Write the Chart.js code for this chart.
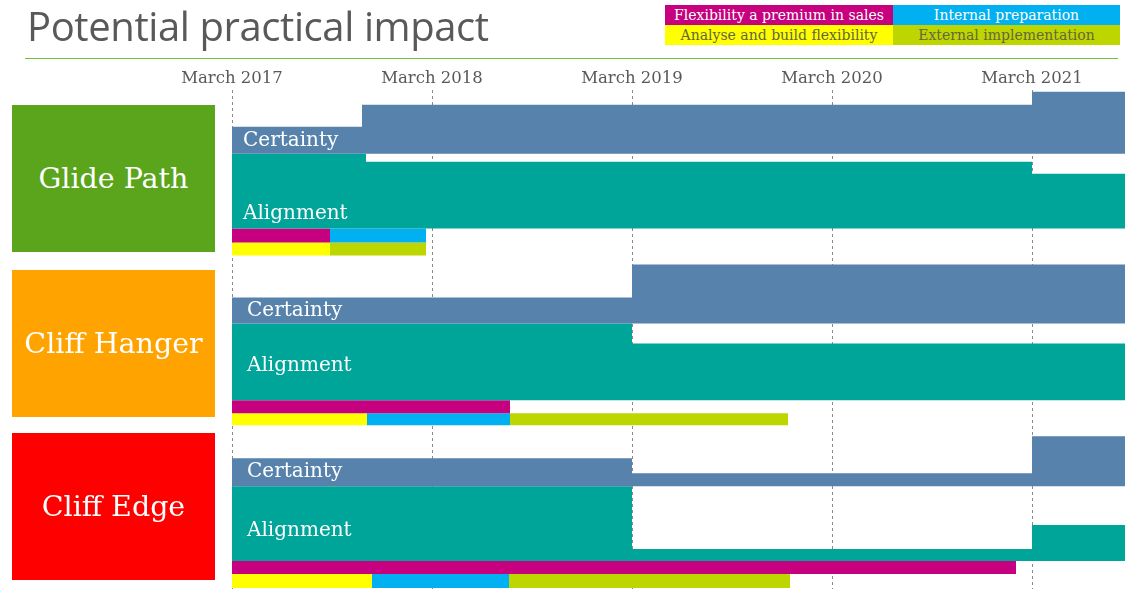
<!DOCTYPE html>
<html>
<head>
<meta charset="utf-8">
<script src="https://cdn.jsdelivr.net/npm/chart.js@4.4.1/dist/chart.umd.min.js"></script>
<style>
  html, body { margin: 0; padding: 0; background: #fff; }
  #page { position: relative; width: 1130px; height: 589px; overflow: hidden; font-family: "DejaVu Serif", serif; }
  #chartBox { position: absolute; left: 0; top: 0; width: 1130px; height: 589px; }
  .title { position: absolute; left: 27px; top: -2px; font-family: "Open Sans", sans-serif; font-weight: 400; font-size: 40px; color: #595959; white-space: nowrap; letter-spacing: -0.4px; }
  .rule { position: absolute; left: 25px; top: 58px; width: 1093px; height: 1px; background: #74c043; }
  .key { position: absolute; text-align: center; font-size: 14px; white-space: nowrap; }
  .scenario { position: absolute; left: 12px; width: 203px; height: 147px; display: flex; align-items: center; justify-content: center; color: #fff; font-size: 28.5px; }
</style>
</head>
<body>
<div id="page">
  <div id="chartBox"><canvas id="timeline"></canvas></div>
  <div class="title">Potential practical impact</div>
  <div class="rule"></div>
</div>
<script>
// time axis
const tickYears = [2017, 2018, 2019, 2020, 2021];
const tickLabels = ['March 2017', 'March 2018', 'March 2019', 'March 2020', 'March 2021'];
const startYear = 2017;
const endYear = 2021.465;

const scenarios = ['Glide Path', 'Cliff Hanger', 'Cliff Edge'];
const phaseNames = ['Flexibility a premium in sales', 'Internal preparation', 'Analyse and build flexibility', 'External implementation'];

// [year, level] - each level holds until the next step
const glideCertaintyTop = [[2017, 37], [2017.65, 15], [2021, 2]];
const glideCertaintyBase = [[2017, 64]];
const glideAlignmentTop = [[2017, 64], [2017.67, 72], [2021, 84]];
const glideAlignmentBase = [[2017, 139]];
const glidePhaseRows = [139, 153, 166];
// [phase, from, to, row]
const glidePhases = [[0, 2017, 2017.49, 0], [1, 2017.49, 2017.97, 0], [2, 2017, 2017.49, 1], [3, 2017.49, 2017.97, 1]];

const hangerCertaintyTop = [[2017, 208], [2019, 175]];
const hangerCertaintyBase = [[2017, 234]];
const hangerAlignmentTop = [[2017, 234], [2019, 254]];
const hangerAlignmentBase = [[2017, 311]];
const hangerPhaseRows = [311, 324, 336];
const hangerPhases = [[0, 2017, 2018.39, 0], [2, 2017, 2017.675, 1], [1, 2017.675, 2018.39, 1], [3, 2018.39, 2019.78, 1]];

const edgeCertaintyTop = [[2017, 369], [2019, 384], [2021, 347]];
const edgeCertaintyBase = [[2017, 397]];
const edgeAlignmentTop = [[2017, 397], [2019, 460], [2021, 436]];
const edgeAlignmentBase = [[2017, 472]];
const edgePhaseRows = [472, 485, 499];
const edgePhases = [[0, 2017, 2020.92, 0], [2, 2017, 2017.70, 1], [1, 2017.70, 2018.385, 1], [3, 2018.385, 2019.79, 1]];

const certaintyColor = '#5682ab';
const alignmentColor = '#00a59a';
const phaseColors = ['#c6007e', '#00b0f0', '#ffff00', '#bed600'];
const phaseTextColors = ['#ffffff', '#ffffff', '#66663c', '#66663c'];
const scenarioColors = ['#5aa51c', '#ffa300', '#ff0000'];

// html bits: legend + scenario boxes
const page = document.getElementById('page');
const keyBoxes = [[665, 5, 228, 20], [893, 5, 227, 20], [665, 25, 228, 20], [893, 25, 227, 20]];
phaseNames.forEach((name, i) => {
  const d = document.createElement('div');
  const [l, t, w, h] = keyBoxes[i];
  d.className = 'key';
  d.style.cssText += `left:${l}px;top:${t}px;width:${w}px;height:${h}px;line-height:${h}px;background:${phaseColors[i]};color:${phaseTextColors[i]};`;
  d.textContent = name;
  page.appendChild(d);
});
const scenarioTops = [105, 270, 433];
scenarios.forEach((name, i) => {
  const d = document.createElement('div');
  d.className = 'scenario';
  d.style.top = scenarioTops[i] + 'px';
  d.style.background = scenarioColors[i];
  d.textContent = name;
  page.appendChild(d);
});

// datasets
function stepLine(points) {
  const pts = points.map(p => ({x: p[0], y: p[1]}));
  pts.push({x: endYear, y: points[points.length - 1][1]});
  return pts;
}

const datasets = [];
function addBand(top, base, color) {
  datasets.push({data: stepLine(top), stepped: true, fill: false, borderWidth: 0, pointRadius: 0});
  datasets.push({data: stepLine(base), stepped: true, fill: '-1', backgroundColor: color, borderWidth: 0, pointRadius: 0});
}
function addPhases(phases, rows) {
  phases.forEach(([p, from, to, r]) => {
    datasets.push({
      data: [{x: from, y: rows[r]}, {x: to, y: rows[r]}],
      fill: {value: rows[r + 1]},
      backgroundColor: phaseColors[p],
      borderWidth: 0,
      pointRadius: 0
    });
  });
}

addBand(glideCertaintyTop, glideCertaintyBase, certaintyColor);
addBand(glideAlignmentTop, glideAlignmentBase, alignmentColor);
addPhases(glidePhases, glidePhaseRows);
addBand(hangerCertaintyTop, hangerCertaintyBase, certaintyColor);
addBand(hangerAlignmentTop, hangerAlignmentBase, alignmentColor);
addPhases(hangerPhases, hangerPhaseRows);
addBand(edgeCertaintyTop, edgeCertaintyBase, certaintyColor);
addBand(edgeAlignmentTop, edgeAlignmentBase, alignmentColor);
addPhases(edgePhases, edgePhaseRows);

// white labels inside the bands
const bandLabels = {
  id: 'bandLabels',
  afterDatasetsDraw(chart) {
    const {ctx, scales: {x, y}} = chart;
    const spots = [['Certainty', 51, 11], ['Alignment', 124, 11], ['Certainty', 221, 15],
                   ['Alignment', 276, 15], ['Certainty', 383, 15], ['Alignment', 442, 15]];
    ctx.save();
    ctx.fillStyle = '#ffffff';
    ctx.font = '20px "DejaVu Serif"';
    ctx.textBaseline = 'middle';
    spots.forEach(([text, level, dx]) => {
      ctx.fillText(text, x.getPixelForValue(startYear) + dx, y.getPixelForValue(level));
    });
    ctx.restore();
  }
};

const ctx = document.getElementById('timeline').getContext('2d');
const timeline = new Chart(ctx, {
  type: 'line',
  data: {datasets: datasets},
  options: {
    responsive: true,
    maintainAspectRatio: false,
    animation: false,
    layout: {padding: {left: 232, right: 5, top: 68, bottom: 0}},
    plugins: {legend: {display: false}, tooltip: {enabled: false}},
    scales: {
      x: {
        type: 'linear',
        position: 'top',
        min: startYear,
        max: endYear,
        afterBuildTicks: axis => { axis.ticks = tickYears.map(v => ({value: v})); },
        ticks: {
          autoSkip: false,
          maxRotation: 0,
          padding: 1,
          color: '#595959',
          font: {family: 'DejaVu Serif', size: 16.5},
          callback: v => tickLabels[tickYears.indexOf(v)]
        },
        grid: {drawTicks: false, color: '#8a8a8a', lineWidth: 1},
        border: {display: false, dash: [3, 3]}
      },
      y: {display: false, min: 0, max: 500, reverse: true}
    }
  },
  plugins: [bandLabels]
});
</script>
</body>
</html>
